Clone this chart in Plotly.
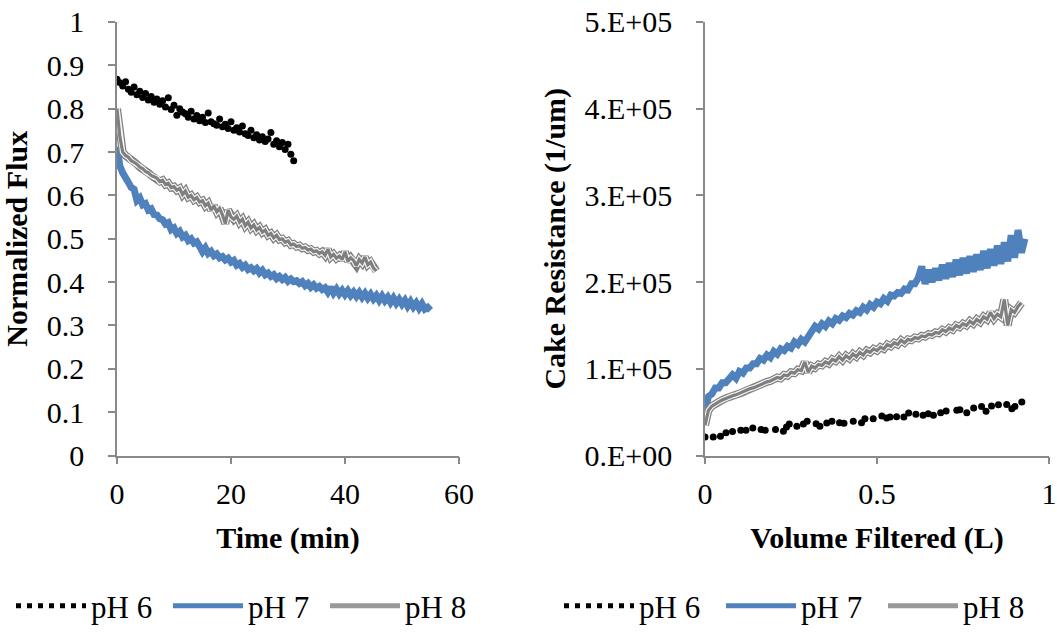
import plotly.graph_objects as go

# ---------------- Data: Normalized flux vs time ----------------
t_ph6 = [0, 0.5, 1, 1.5, 2, 2.5, 3, 3.5, 4, 4.5, 5, 5.5, 6, 6.5, 7, 7.5, 8, 8.5, 9, 9.5,
         10, 10.5, 11, 11.5, 12, 12.5, 13, 13.5, 14, 14.5, 15, 15.5, 16, 16.5, 17, 17.5,
         18, 18.5, 19, 19.5, 20, 20.5, 21, 21.5, 22, 22.5, 23, 23.5, 24, 24.5, 25, 25.5,
         26, 26.5, 27, 27.5, 28, 28.5, 29, 29.5, 30, 30.5, 31]
flux_ph6 = [0.868, 0.860, 0.852, 0.862, 0.845, 0.838, 0.850, 0.832, 0.840, 0.826, 0.835,
            0.820, 0.828, 0.815, 0.822, 0.810, 0.818, 0.804, 0.825, 0.798, 0.808, 0.785,
            0.800, 0.792, 0.788, 0.780, 0.794, 0.776, 0.784, 0.772, 0.780, 0.768, 0.790,
            0.770, 0.765, 0.762, 0.776, 0.758, 0.764, 0.754, 0.770, 0.750, 0.756, 0.746,
            0.760, 0.742, 0.738, 0.750, 0.733, 0.740, 0.728, 0.735, 0.724, 0.730, 0.745,
            0.718, 0.726, 0.712, 0.722, 0.706, 0.718, 0.695, 0.680]

t_ph7 = [0, 0.5, 1, 1.5, 2, 2.5, 3, 3.5, 4, 4.5, 5, 5.5, 6, 6.5, 7, 7.5, 8, 8.5, 9, 9.5,
         10, 10.5, 11, 11.5, 12, 12.5, 13, 13.5, 14, 14.5, 15, 15.5, 16, 16.5, 17, 17.5,
         18, 18.5, 19, 19.5, 20, 20.5, 21, 21.5, 22, 22.5, 23, 23.5, 24, 24.5, 25, 25.5,
         26, 26.5, 27, 27.5, 28, 28.5, 29, 29.5, 30, 30.5, 31, 31.5, 32, 32.5, 33, 33.5,
         34, 34.5, 35, 35.5, 36, 36.5, 37, 37.5, 38, 38.5, 39, 39.5, 40, 40.5, 41, 41.5,
         42, 42.5, 43, 43.5, 44, 44.5, 45, 45.5, 46, 46.5, 47, 47.5, 48, 48.5, 49, 49.5,
         50, 50.5, 51, 51.5, 52, 52.5, 53, 53.5, 54, 54.5, 55]
flux_ph7 = [0.712, 0.668, 0.652, 0.636, 0.630, 0.618, 0.614, 0.588, 0.594, 0.578, 0.581,
            0.566, 0.569, 0.556, 0.555, 0.546, 0.544, 0.534, 0.537, 0.521, 0.525, 0.512,
            0.517, 0.504, 0.508, 0.496, 0.500, 0.490, 0.493, 0.482, 0.470, 0.479, 0.466,
            0.471, 0.461, 0.465, 0.456, 0.459, 0.451, 0.455, 0.446, 0.450, 0.439, 0.443,
            0.434, 0.439, 0.429, 0.433, 0.426, 0.431, 0.421, 0.427, 0.417, 0.421, 0.413,
            0.417, 0.408, 0.413, 0.406, 0.411, 0.402, 0.407, 0.401, 0.403, 0.397, 0.401,
            0.392, 0.397, 0.388, 0.394, 0.386, 0.390, 0.383, 0.387, 0.377, 0.388, 0.375,
            0.384, 0.373, 0.381, 0.371, 0.380, 0.369, 0.377, 0.367, 0.376, 0.365, 0.374,
            0.363, 0.372, 0.361, 0.369, 0.358, 0.368, 0.357, 0.365, 0.353, 0.363, 0.351,
            0.360, 0.349, 0.358, 0.345, 0.355, 0.343, 0.352, 0.340, 0.350, 0.338, 0.342,
            0.335]

t_ph8 = [0, 0.5, 1, 1.5, 2, 2.5, 3, 3.5, 4, 4.5, 5, 5.5, 6, 6.5, 7, 7.5, 8, 8.5, 9, 9.5,
         10, 10.5, 11, 11.5, 12, 12.5, 13, 13.5, 14, 14.5, 15, 15.5, 16, 16.5, 17, 17.5,
         18, 18.5, 19, 19.5, 20, 20.5, 21, 21.5, 22, 22.5, 23, 23.5, 24, 24.5, 25, 25.5,
         26, 26.5, 27, 27.5, 28, 28.5, 29, 29.5, 30, 30.5, 31, 31.5, 32, 32.5, 33, 33.5,
         34, 34.5, 35, 35.5, 36, 36.5, 37, 37.5, 38, 38.5, 39, 39.5, 40, 40.5, 41, 41.5,
         42, 42.5, 43, 43.5, 44, 44.5, 45, 45.5]
flux_ph8 = [0.800, 0.735, 0.700, 0.692, 0.688, 0.680, 0.676, 0.672, 0.665, 0.662, 0.655,
            0.652, 0.646, 0.642, 0.640, 0.632, 0.635, 0.625, 0.628, 0.618, 0.620, 0.612,
            0.616, 0.602, 0.610, 0.596, 0.600, 0.590, 0.595, 0.585, 0.588, 0.576, 0.582,
            0.566, 0.576, 0.562, 0.570, 0.555, 0.535, 0.566, 0.550, 0.545, 0.552, 0.538,
            0.545, 0.530, 0.538, 0.525, 0.532, 0.520, 0.526, 0.515, 0.520, 0.508, 0.512,
            0.502, 0.508, 0.498, 0.500, 0.492, 0.495, 0.486, 0.488, 0.482, 0.484, 0.478,
            0.480, 0.474, 0.476, 0.470, 0.472, 0.466, 0.470, 0.462, 0.476, 0.458, 0.464,
            0.455, 0.460, 0.452, 0.470, 0.448, 0.456, 0.450, 0.438, 0.452, 0.444, 0.458,
            0.440, 0.446, 0.432, 0.426]

# ---------------- Data: Cake resistance vs volume filtered ----------------
v_ph6 = [0.000, 0.024, 0.045, 0.061, 0.080, 0.104, 0.119, 0.139, 0.163, 0.175, 0.205,
         0.228, 0.237, 0.245, 0.267, 0.286, 0.297, 0.323, 0.334, 0.354, 0.369, 0.391,
         0.404, 0.431, 0.455, 0.465, 0.489, 0.514, 0.528, 0.538, 0.557, 0.578, 0.592,
         0.613, 0.634, 0.649, 0.664, 0.685, 0.701, 0.732, 0.741, 0.761, 0.781, 0.804,
         0.817, 0.833, 0.853, 0.877, 0.892, 0.901, 0.921]
r_ph6 = [21500, 21500, 22200, 26400, 27600, 29100, 29100, 31800, 29900, 29100, 29900,
         28000, 33000, 36400, 33700, 36400, 39500, 36800, 33700, 37600, 39500, 37900,
         37200, 39500, 37900, 42500, 42500, 45600, 43300, 44500, 44800, 44500, 49000,
         47500, 46400, 48300, 46400, 49400, 51300, 52100, 52900, 49400, 54800, 56700,
         51000, 57100, 58600, 59000, 54000, 56700, 61700]

v_ph7 = [0.00, 0.01, 0.02, 0.03, 0.04, 0.05, 0.06, 0.07, 0.08, 0.09, 0.10, 0.11, 0.12,
         0.13, 0.14, 0.15, 0.16, 0.17, 0.18, 0.19, 0.20, 0.21, 0.22, 0.23, 0.24, 0.25,
         0.26, 0.27, 0.28, 0.29, 0.30, 0.31, 0.32, 0.33, 0.34, 0.35, 0.36, 0.37, 0.38,
         0.39, 0.40, 0.41, 0.42, 0.43, 0.44, 0.45, 0.46, 0.47, 0.48, 0.49, 0.50, 0.51,
         0.52, 0.53, 0.54, 0.55, 0.56, 0.57, 0.58, 0.59, 0.60, 0.61, 0.62, 0.63, 0.64,
         0.65, 0.66, 0.67, 0.68, 0.69, 0.70, 0.71, 0.72, 0.73, 0.74, 0.75, 0.76, 0.77,
         0.78, 0.79, 0.80, 0.81, 0.82, 0.83, 0.84, 0.85, 0.86, 0.87, 0.88, 0.89, 0.90,
         0.91, 0.92, 0.93]
r_ph7 = [52000, 68000, 71000, 78000, 78000, 84000, 84000, 90000, 93000, 89000, 97000,
         95000, 101000, 101000, 106000, 106000, 112000, 110000, 116000, 113000, 120000,
         117000, 123000, 121000, 126000, 124000, 131000, 128000, 134000, 131000, 138000,
         144000, 149000, 146000, 152000, 149000, 155000, 152000, 158000, 156000, 161000,
         159000, 164000, 162000, 167000, 165000, 171000, 168000, 174000, 171000, 177000,
         175000, 181000, 178000, 185000, 184000, 188000, 187000, 192000, 191000, 198000,
         198000, 205000, 218000, 198000, 214000, 200000, 216000, 202000, 220000, 204000,
         222000, 206000, 226000, 208000, 228000, 210000, 230000, 212000, 232000, 214000,
         236000, 216000, 238000, 219000, 242000, 221000, 246000, 224000, 254000, 228000,
         260000, 234000, 250000]

v_ph8 = [0.00, 0.01, 0.02, 0.03, 0.04, 0.05, 0.06, 0.07, 0.08, 0.09, 0.10, 0.11, 0.12,
         0.13, 0.14, 0.15, 0.16, 0.17, 0.18, 0.19, 0.20, 0.21, 0.22, 0.23, 0.24, 0.25,
         0.26, 0.27, 0.28, 0.29, 0.30, 0.31, 0.32, 0.33, 0.34, 0.35, 0.36, 0.37, 0.38,
         0.39, 0.40, 0.41, 0.42, 0.43, 0.44, 0.45, 0.46, 0.47, 0.48, 0.49, 0.50, 0.51,
         0.52, 0.53, 0.54, 0.55, 0.56, 0.57, 0.58, 0.59, 0.60, 0.61, 0.62, 0.63, 0.64,
         0.65, 0.66, 0.67, 0.68, 0.69, 0.70, 0.71, 0.72, 0.73, 0.74, 0.75, 0.76, 0.77,
         0.78, 0.79, 0.80, 0.81, 0.82, 0.83, 0.84, 0.85, 0.86, 0.87, 0.88, 0.89, 0.90,
         0.91, 0.92]
r_ph8 = [35000, 52000, 57000, 60000, 62000, 64000, 66000, 67000, 69000, 70000, 72000,
         73000, 75000, 77000, 78000, 80000, 82000, 83000, 85000, 86000, 88000, 90000,
         89000, 93000, 92000, 96000, 95000, 99000, 98000, 108000, 96000, 103000, 101000,
         105000, 104000, 108000, 106000, 111000, 109000, 114000, 110000, 115000, 112000,
         117000, 114000, 119000, 116000, 121000, 119000, 123000, 121000, 125000, 123000,
         128000, 126000, 130000, 128000, 133000, 130000, 134000, 133000, 136000, 135000,
         138000, 137000, 140000, 139000, 142000, 141000, 145000, 143000, 147000, 145000,
         150000, 148000, 152000, 150000, 155000, 152000, 157000, 154000, 160000, 157000,
         165000, 158000, 163000, 160000, 180000, 150000, 168000, 165000, 172000, 176000]

# ---------------- Axis ticks ----------------
flux_ticks = [0, 0.1, 0.2, 0.3, 0.4, 0.5, 0.6, 0.7, 0.8, 0.9, 1]
flux_ticktext = ["0", "0.1", "0.2", "0.3", "0.4", "0.5", "0.6", "0.7", "0.8", "0.9", "1"]
time_ticks = [0, 20, 40, 60]
res_ticks = [0, 100000, 200000, 300000, 400000, 500000]
res_ticktext = ["0.E+00", "1.E+05", "2.E+05", "3.E+05", "4.E+05", "5.E+05"]
vol_ticks = [0, 0.5, 1]
vol_ticktext = ["0", "0.5", "1"]

series_names = ["pH 6", "pH 7", "pH 8"]

BLUE = "#4f81bd"
GRAY = "#7f7f7f"
AXC = "#898989"
FONT = "Liberation Serif"

fig = go.Figure()

def add_panel(xa, ya, x6, y6, x7, y7, x8, y8, legend):
    fig.add_trace(go.Scatter(x=x6, y=y6, mode="markers", xaxis=xa, yaxis=ya,
                             marker=dict(color="black", size=7), showlegend=False,
                             name=series_names[0]))
    fig.add_trace(go.Scatter(x=x7, y=y7, mode="lines", xaxis=xa, yaxis=ya,
                             line=dict(color=BLUE, width=7), showlegend=False,
                             name=series_names[1]))
    # pH 8: compound (double) gray line
    fig.add_trace(go.Scatter(x=x8, y=y8, mode="lines", xaxis=xa, yaxis=ya,
                             line=dict(color=GRAY, width=8), showlegend=False,
                             name=series_names[2]))
    fig.add_trace(go.Scatter(x=x8, y=y8, mode="lines", xaxis=xa, yaxis=ya,
                             line=dict(color="#f6f6f6", width=5.5), showlegend=False,
                             hoverinfo="skip", name=series_names[2]))
    fig.add_trace(go.Scatter(x=x8, y=y8, mode="lines", xaxis=xa, yaxis=ya,
                             line=dict(color=GRAY, width=3.2), showlegend=False,
                             hoverinfo="skip", name=series_names[2]))
    # legend entries
    fig.add_trace(go.Scatter(x=[None], y=[None], mode="lines", xaxis=xa, yaxis=ya,
                             line=dict(color="black", width=5, dash="5px,6px"),
                             name=series_names[0], legend=legend))
    fig.add_trace(go.Scatter(x=[None], y=[None], mode="lines", xaxis=xa, yaxis=ya,
                             line=dict(color=BLUE, width=5), name=series_names[1],
                             legend=legend))
    fig.add_trace(go.Scatter(x=[None], y=[None], mode="lines", xaxis=xa, yaxis=ya,
                             line=dict(color="#999999", width=5), name=series_names[2],
                             legend=legend))

add_panel("x", "y", t_ph6, flux_ph6, t_ph7, flux_ph7, t_ph8, flux_ph8, "legend")
add_panel("x2", "y2", v_ph6, r_ph6, v_ph7, r_ph7, v_ph8, r_ph8, "legend2")

W, H = 1057, 633
ytop, ybot = 22, 457

axis_common = dict(showgrid=False, zeroline=False, showline=True, linecolor=AXC,
                   linewidth=1.5, ticks="outside", tickcolor=AXC, tickwidth=1.5,
                   ticklen=7, automargin=False,
                   tickfont=dict(family=FONT, size=30, color="black"))
title_font = dict(family=FONT, size=30, color="black")
legend_font = dict(family=FONT, size=31, color="black")

fig.update_layout(
    width=W, height=H,
    margin=dict(l=0, r=0, t=0, b=0),
    paper_bgcolor="white", plot_bgcolor="white",
    font=dict(family=FONT, size=30, color="black"),
    xaxis=dict(axis_common, domain=[117 / W, 459 / W], range=[0, 60],
               tickvals=time_ticks, anchor="y", ticklabelstandoff=4,
               title=dict(text="<b>Time (min)</b>", standoff=18, font=title_font)),
    yaxis=dict(axis_common, domain=[(H - ybot) / H, (H - ytop) / H], range=[0, 1],
               tickvals=flux_ticks, ticktext=flux_ticktext, anchor="x",
               ticklabelstandoff=18,
               title=dict(text="<b>Normalized Flux</b>", standoff=10, font=title_font)),
    xaxis2=dict(axis_common, domain=[705 / W, 1049 / W], range=[0, 1],
                tickvals=vol_ticks, ticktext=vol_ticktext, anchor="y2",
                ticklabelstandoff=4,
                title=dict(text="<b>Volume Filtered (L)</b>", standoff=18,
                           font=title_font)),
    yaxis2=dict(axis_common, domain=[(H - ybot) / H, (H - ytop) / H], range=[0, 500000],
                tickvals=res_ticks, ticktext=res_ticktext, anchor="x2",
                ticklabelstandoff=18,
                title=dict(text="<b>Cake Resistance (1/um)</b>", standoff=10,
                           font=title_font)),
    legend=dict(orientation="h", x=11 / W, y=(H - 608) / H, xanchor="left",
                yanchor="middle", itemwidth=70, entrywidth=72, bgcolor="rgba(0,0,0,0)",
                font=legend_font, itemclick=False),
    legend2=dict(orientation="h", x=559 / W, y=(H - 608) / H, xanchor="left",
                 yanchor="middle", itemwidth=70, entrywidth=77, bgcolor="rgba(0,0,0,0)",
                 font=legend_font, itemclick=False),
)

fig.write_html("out.html", config={"displayModeBar": False},
               post_script="document.body.style.margin='0px';")
